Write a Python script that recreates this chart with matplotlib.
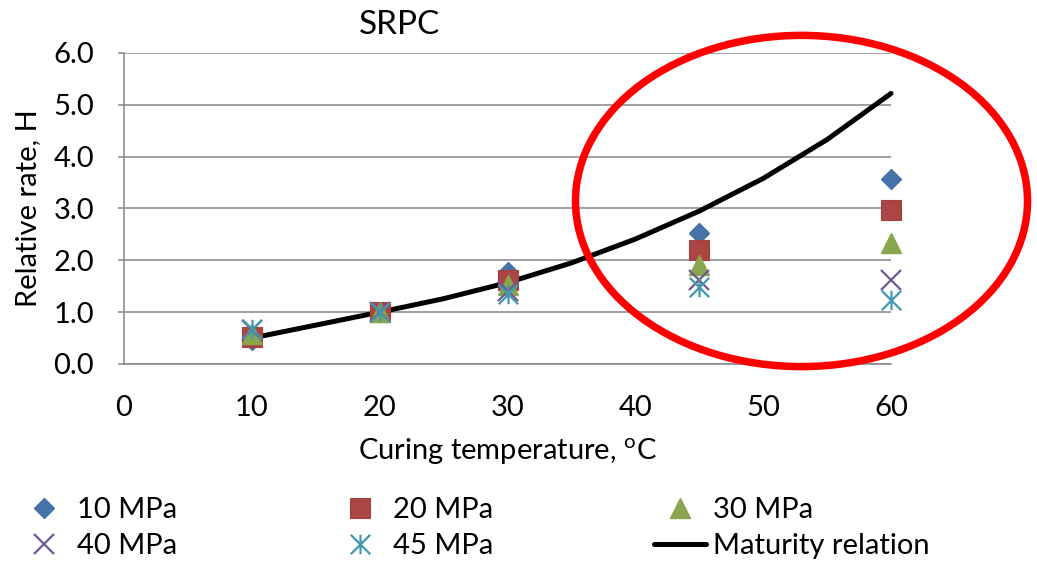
import matplotlib
matplotlib.use("Agg")
import matplotlib.pyplot as plt
from matplotlib.path import Path
from matplotlib.patches import Ellipse

plt.rcParams['font.family'] = ['Lato', 'DejaVu Sans']
plt.rcParams['mathtext.fontset'] = 'custom'
plt.rcParams['mathtext.rm'] = 'Lato'

# ---- data -------------------------------------------------------------
temps = [10, 20, 30, 45, 60]
h_10mpa = [0.47, 1.00, 1.78, 2.53, 3.57]
h_20mpa = [0.52, 1.00, 1.62, 2.20, 2.97]
h_30mpa = [0.58, 1.00, 1.52, 1.91, 2.33]
h_40mpa = [0.66, 1.00, 1.40, 1.62, 1.62]
h_45mpa = [0.68, 1.00, 1.36, 1.49, 1.24]

maturity_temps = [10, 15, 20, 25, 30, 35, 40, 45, 50, 55, 60]
maturity_h = [0.50, 0.75, 1.00, 1.26, 1.57, 1.95, 2.41, 2.95, 3.58, 4.33, 5.22]

x_ticks = [0, 10, 20, 30, 40, 50, 60]
y_ticks = [0.0, 1.0, 2.0, 3.0, 4.0, 5.0, 6.0]

# ---- figure -----------------------------------------------------------
W, H = 1037, 569
fig = plt.figure(figsize=(W / 100, H / 100), dpi=100)
ax = fig.add_axes([124 / W, (H - 364) / H, 767 / W, 311 / H])

GRID = '#868686'
FS = 21

# asterisk marker: an "x" crossed by a vertical stroke
star_path = Path(
    [(0, -1), (0, 1), (-1, -1), (1, 1), (-1, 1), (1, -1)],
    [Path.MOVETO, Path.LINETO, Path.MOVETO, Path.LINETO, Path.MOVETO, Path.LINETO],
)

line_mat, = ax.plot(maturity_temps, maturity_h, color='black', lw=3.6,
                    solid_capstyle='round', solid_joinstyle='round',
                    zorder=3, clip_on=False, label='Maturity relation')

marker_kw = dict(ls='none', clip_on=False)
s10, = ax.plot(temps, h_10mpa, marker='D', ms=10.2, color='#4572A7',
               mec='#4572A7', zorder=4, label='10 MPa', **marker_kw)
s20, = ax.plot(temps, h_20mpa, marker='s', ms=14, color='#AA4643',
               mec='#A24240', mew=0.8, zorder=5, label='20 MPa', **marker_kw)
s30, = ax.plot(temps, h_30mpa, marker='^', ms=14, color='#89A54E',
               mec='#89A54E', zorder=6, label='30 MPa', **marker_kw)
s40, = ax.plot(temps, h_40mpa, marker='x', ms=14, color='#71588F',
               mew=1.6, zorder=7, label='40 MPa', **marker_kw)
s45, = ax.plot(temps, h_45mpa, marker=star_path, ms=14, color='#4198AF',
               mew=1.6, zorder=8, label='45 MPa', **marker_kw)

ax.set_xlim(0, 60)
ax.set_ylim(0, 6)
ax.set_xticks(x_ticks)
ax.set_yticks(y_ticks)
ax.set_yticklabels([f'{v:.1f}' for v in y_ticks])
ax.grid(axis='y', color=GRID, lw=1.1, zorder=0)
ax.set_axisbelow(True)

for side in ('top', 'right'):
    ax.spines[side].set_visible(False)
for side in ('left', 'bottom'):
    ax.spines[side].set_color(GRID)
    ax.spines[side].set_linewidth(1.1)

ax.tick_params(axis='x', length=0, pad=22, labelsize=FS, colors='black')
ax.tick_params(axis='y', length=4.5, width=1.1, color=GRID, pad=17, labelsize=FS)

# highlight ring around the high-temperature region
ring = Ellipse((53.0, 3.145), 35.36, 6.39, fill=False, ec='#FF0000', lw=5.4,
               clip_on=False, zorder=10)
ax.add_patch(ring)

# ---- texts ------------------------------------------------------------
fig.text(400 / W, 1 - 25 / H, 'SRPC', ha='center', va='center', fontsize=24)
fig.text(507 / W, 1 - 452 / H, r'Curing temperature, $^{\mathrm{o}}$C',
         ha='center', va='center', fontsize=FS)
fig.text(28 / W, 1 - 208 / H, 'Relative rate, H', rotation=90,
         ha='center', va='center', fontsize=FS)

# ---- legend (three columns) ------------------------------------------
columns = [(s10, s40), (s20, s45), (s30, line_mat)]
col_left = [18, 334, 654]
for handles, x0 in zip(columns, col_left):
    fig.legend(handles=list(handles), labels=[h.get_label() for h in handles],
               loc='center left', bbox_to_anchor=(x0 / W, 1 - 528 / H),
               frameon=False, fontsize=FS, borderpad=0, borderaxespad=0,
               handlelength=1.78, handletextpad=0.25, labelspacing=0.36,
               numpoints=1)

fig.savefig('out.png', dpi=100)
